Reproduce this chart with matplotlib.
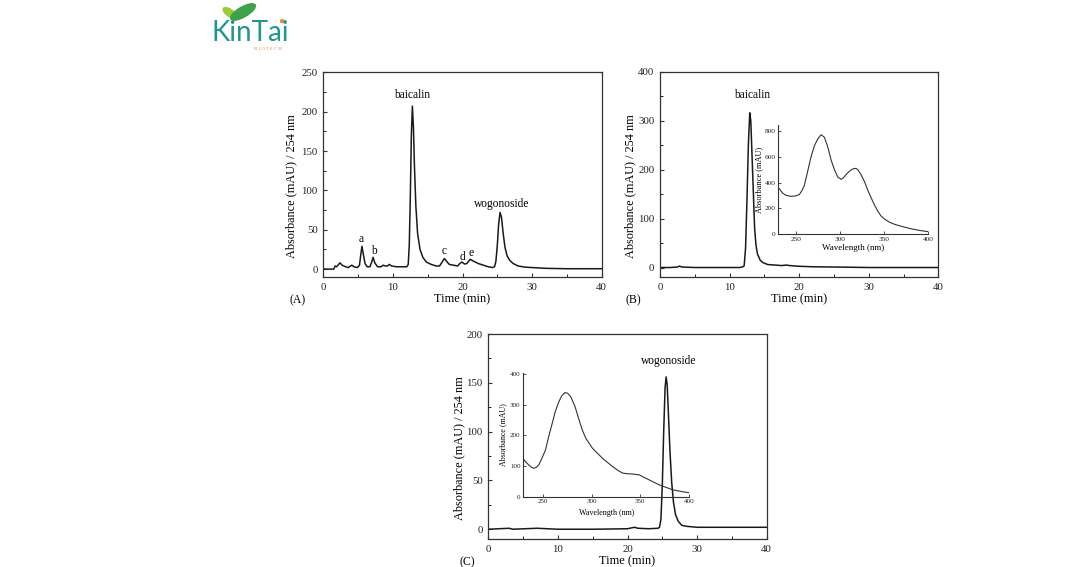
import matplotlib
matplotlib.use("Agg")
import matplotlib.pyplot as plt
from matplotlib.patches import Ellipse

plt.rcParams['font.family'] = ['Liberation Serif', 'DejaVu Serif']
plt.rcParams['xtick.direction'] = 'in'
plt.rcParams['ytick.direction'] = 'in'

# ---------------- data ----------------
# (A) extract chromatogram
time_a = [0, 1.5, 1.7, 1.9, 2.2, 2.4, 2.7, 3.2, 3.6, 3.9, 4.1, 4.4, 4.9, 5.2, 5.35,
          5.55, 5.75, 6.0, 6.3, 6.7, 6.95, 7.15, 7.4, 7.8, 8.3, 8.6, 8.9, 9.2, 9.5,
          9.8, 10.5, 11.5, 12.0, 12.2, 12.35, 12.5, 12.65, 12.8, 12.95, 13.1, 13.3,
          13.55, 13.9, 14.3, 14.8, 15.5, 16.2, 16.7, 17.0, 17.4, 17.7, 18.1, 18.7,
          19.3, 19.6, 19.9, 20.3, 20.6, 21.1, 21.6, 22.3, 23.0, 23.7, 24.3, 24.6,
          24.8, 25.0, 25.2, 25.4, 25.6, 25.85, 26.1, 26.4, 26.8, 27.3, 28.0, 29.0,
          30.0, 32.0, 35.0, 38.0, 40.0]
abs_a = [0, 0, 4, 3, 6, 8, 5, 3, 2, 4, 5, 3, 2, 5, 16,
         29, 19, 7, 3, 3, 9, 15, 8, 3, 3, 5, 4, 4, 6,
         4, 3, 3, 3, 6, 30, 90, 170, 207, 180, 130, 80,
         45, 25, 15, 9, 6, 4, 4, 8, 13.5, 10, 6, 5,
         4, 7, 9, 6.5, 7, 12.5, 10, 7, 5, 3, 2, 3,
         10, 30, 58, 72, 66, 45, 28, 17, 11, 7, 4, 2.5,
         2, 1, 0.5, 0.5, 0.5]

# (B) purified baicalin chromatogram
time_b = [0, 1.5, 2.5, 2.8, 3.1, 5, 8, 10, 11.5, 12.0, 12.1, 12.3, 12.5, 12.7,
          12.9, 13.05, 13.25, 13.45, 13.6, 13.8, 14.0, 14.4, 14.8, 15.5, 16.5,
          17.5, 18.2, 18.6, 20, 22, 25, 30, 35, 40]
abs_b = [0, 0, 1, 3, 1, 0, 0, 0, 0, 2, 4, 40, 138, 250,
         316, 300, 220, 140, 80, 45, 28, 15, 10, 6, 5,
         4, 5, 4, 2.5, 1.5, 1, 0, 0, 0]

# (B) inset: UV spectrum of baicalin
wl_b = [231, 235, 238.6, 244, 249, 253.8, 256.5, 259.5, 263, 267, 271, 274.7,
        278.5, 282.3, 286, 290, 294, 297.5, 301.3, 304, 307, 311, 314.6, 318,
        320.3, 324, 327.9, 331.5, 335.6, 339.5, 343.2, 346.5, 350.8, 356, 362,
        371, 381, 390, 400]
uv_b = [354, 318, 302, 294, 296, 307, 335, 379, 480, 599, 690, 741,
        774, 754, 680, 573, 495, 444, 426, 440, 465, 492, 508, 512,
        500, 460, 405, 340, 276, 220, 173, 140, 114, 92, 75,
        57, 40, 28, 18]

# (C) purified wogonoside chromatogram
time_c = [0, 3, 3.5, 7, 10, 15, 20, 21, 21.5, 23, 24.4, 24.6, 24.8, 25.0, 25.2,
          25.4, 25.55, 25.7, 25.9, 26.1, 26.35, 26.6, 26.9, 27.3, 27.8, 28.5,
          30, 35, 40]
abs_c = [0, 1, 0, 1, 0, 0, 0.5, 2, 1, 0.5, 1, 2, 10, 45, 100,
         145, 156, 148, 115, 80, 48, 28, 15, 8, 4, 3,
         2, 2, 2]

# (C) inset: UV spectrum of wogonoside
wl_c = [228.6, 232, 235.5, 238, 240.7, 243, 245.9, 249, 252.8, 256, 259.7,
        263, 266.6, 269.5, 272.8, 275.5, 278.6, 283, 287.2, 290.5, 294.1, 301,
        311.4, 321.7, 328, 332, 337, 342.4, 349.3, 354, 359.7, 370, 383.8, 392,
        400]
uv_c = [131, 115, 104, 97, 93, 95, 104, 125, 153, 196, 240,
        280, 311, 330, 340, 338, 327, 295, 251, 218, 191, 158,
        125, 98, 84, 77, 75, 74, 71, 63, 54, 38, 22, 17,
        13]

W, H = 1080, 567
fig = plt.figure(figsize=(W / 100, H / 100), dpi=100)


def px_axes(x0, y0, x1, y1, **kw):
    # axes from pixel box (top-left origin)
    return fig.add_axes([x0 / W, 1 - y1 / H, (x1 - x0) / W, (y1 - y0) / H], **kw)


line_col = '#1a1a1a'
spine_col = '#333333'


def style_main(ax, ylim, ymajor, yminor):
    ax.set_xlim(0, 40)
    ax.set_ylim(*ylim)
    ax.set_xticks(range(0, 41, 10))
    ax.set_xticks(range(0, 41, 5), minor=True)
    ax.set_yticks(range(0, int(ylim[1]) + 1, ymajor))
    ax.set_yticks(range(0, int(ylim[1]) + 1, yminor), minor=True)
    ax.tick_params(labelsize=7.8, length=3, width=0.8, pad=4, colors=spine_col,
                   labelcolor='#222222')
    ax.tick_params(which='minor', length=2, width=0.6)
    for s in ax.spines.values():
        s.set_color(spine_col)
        s.set_linewidth(0.9)


def style_inset(ax, ylim, yticks, lsize):
    ax.patch.set_alpha(0)
    ax.set_xlim(230, 400)
    ax.set_ylim(*ylim)
    ax.set_xticks([250, 300, 350, 400])
    ax.set_yticks(yticks)
    ax.spines['top'].set_visible(False)
    ax.spines['right'].set_visible(False)
    for s in ['left', 'bottom']:
        ax.spines[s].set_color(spine_col)
        ax.spines[s].set_linewidth(0.8)
    ax.tick_params(labelsize=lsize, length=2, width=0.6, pad=2, colors=spine_col,
                   labelcolor='#222222')


# ---------------- panel A ----------------
axA = px_axes(323.3, 72.3, 601.7, 277)
axA.plot(time_a, abs_a, color=line_col, lw=1.1)
style_main(axA, (-10, 250), 50, 25)
axA.set_ylabel('Absorbance (mAU) / 254 nm', fontsize=8.8)
axA.yaxis.set_label_coords(-0.094, 0.445)
axA.set_xlabel('Time (min)', fontsize=8.8, labelpad=1)
axA.text(12.8, 221, 'baicalin', fontsize=8.3, ha='center', va='center')
axA.text(25.6, 83, 'wogonoside', fontsize=8.3, ha='center', va='center')
for lab, t, v in [('a', 5.5, 38.5), ('b', 7.2, 23), ('c', 17.4, 23),
                  ('d', 20.0, 16), ('e', 21.2, 20)]:
    axA.text(t, v, lab, fontsize=8.3, ha='center', va='center')
fig.text(289 / W, 1 - 300 / H, '(A)', fontsize=8.5, va='center')

# ---------------- panel B ----------------
axB = px_axes(660, 71.7, 938.3, 277.3)
axB.plot(time_b, abs_b, color=line_col, lw=1.1)
style_main(axB, (-20, 400), 100, 50)
axB.set_ylabel('Absorbance (mAU) / 254 nm', fontsize=8.8)
axB.yaxis.set_label_coords(-0.086, 0.445)
axB.set_xlabel('Time (min)', fontsize=8.8, labelpad=1)
axB.text(13.2, 352, 'baicalin', fontsize=8.3, ha='center', va='center')
fig.text(625 / W, 1 - 300 / H, '(B)', fontsize=8.5, va='center')

insB = px_axes(778.3, 125, 928.3, 234)
insB.plot(wl_b, uv_b, color='#333333', lw=0.8)
style_inset(insB, (0, 850), [0, 200, 400, 600, 800], 5.3)
insB.set_xlabel('Wavelength (nm)', fontsize=6.5, labelpad=1.5)
insB.set_ylabel('Absorbance (mAU)', fontsize=6, labelpad=1)

# ---------------- panel C ----------------
axC = px_axes(488.3, 334, 766.7, 539)
axC.plot(time_c, abs_c, color=line_col, lw=1.1)
style_main(axC, (-10, 200), 50, 25)
axC.set_ylabel('Absorbance (mAU) / 254 nm', fontsize=8.8)
axC.yaxis.set_label_coords(-0.084, 0.445)
axC.set_xlabel('Time (min)', fontsize=8.8, labelpad=1)
axC.text(25.9, 172.6, 'wogonoside', fontsize=8.3, ha='center', va='center')
fig.text(459 / W, 1 - 562 / H, '(C)', fontsize=8.5, va='center')

insC = px_axes(523.3, 372.7, 689, 496.7)
insC.plot(wl_c, uv_c, color='#333333', lw=0.8)
style_inset(insC, (0, 405), [0, 100, 200, 300, 400], 5)
insC.set_xlabel('Wavelength (nm)', fontsize=5.8, labelpad=3)
insC.set_ylabel('Absorbance (mAU)', fontsize=5.8, labelpad=2)

# ---------------- logo ----------------
logo = px_axes(200, 0, 300, 55)
logo.set_xlim(200, 300)
logo.set_ylim(55, 0)
logo.axis('off')
logo.add_patch(Ellipse((230, 13), 16, 7, angle=35, color='#9ccc3c'))
logo.add_patch(Ellipse((243, 12), 28, 10, angle=-30, color='#3fa14a'))
logo.text(212, 41, 'KinTai', fontsize=20, family='Lato', color='#24958f',
          ha='left', va='baseline')
logo.add_patch(Ellipse((282, 21), 3, 3, color='#f08a3c'))
logo.text(268, 48.5, 'B I O T E C H', fontsize=3.4, color='#e0884a',
          ha='center', va='center')

fig.savefig('out.png', dpi=100)
